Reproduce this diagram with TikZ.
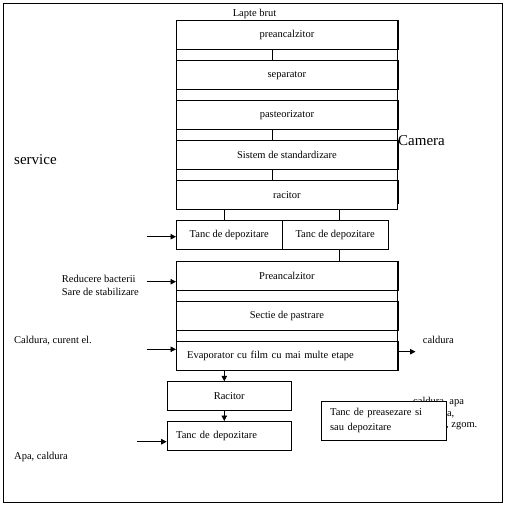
\documentclass[tikz,border=0pt]{standalone}
\usepackage{fontspec}
\setmainfont{Liberation Serif}
\usetikzlibrary{arrows.meta}
\begin{document}
\begin{tikzpicture}[x=1pt,y=-1pt,
  every node/.style={font=\fontsize{10.5}{12.4}\selectfont},
  box/.style={draw, line width=0.8pt, anchor=north west, inner sep=0pt},
  colbox/.style={box, minimum width=221pt, minimum height=29pt},
  tbox/.style={box, minimum width=106pt, minimum height=29pt},
  lbl/.style={anchor=west, inner sep=0pt, align=left},
  big/.style={lbl, font=\fontsize{15}{18}\selectfont},
  line/.style={line width=0.8pt},
  arr/.style={line width=0.8pt, -{Triangle[length=5.5pt,width=5.5pt]}},
  rim/.style={line width=1.6pt}]
\useasboundingbox (0,0) rectangle (506,505);
\draw[line] (3.2,3.3) rectangle (502.6,502.6);

% main column
\node[colbox] (p1) at (176,20.5) {preancalzitor};
\node[colbox] (p2) at (176,60.5) {separator};
\node[colbox] (p3) at (176,100.5) {pasteorizator};
\node[colbox] (p4) at (176,140.5) {Sistem de standardizare};
\node[colbox] (p5) at (176,180.5) {racitor};
\node[lbl, anchor=center] (lapte) at (254.5,13.5) {Lapte brut};

\coordinate (cx) at (272.7,0);
\coordinate (cl) at (224.3,0);
\coordinate (cr) at (339.3,0);

\foreach \a/\b in {p1/p2,p2/p3,p3/p4,p4/p5}{
  \draw[line] (\a.south west) -- (\b.north west);
  \draw[line] (\a.south east) -- (\b.north east);
}
\draw[line] (p1.south -| cx) -- (p2.north -| cx);
\draw[line] (p3.south -| cx) -- (p4.north -| cx);
\draw[line] (p4.south -| cx) -- (p5.north -| cx);

% storage tanks
\node[box, minimum width=105.7pt, minimum height=29pt] (t1) at (176,220) {Tanc de depozitare};
\node[box, minimum width=106pt, minimum height=29pt] (t2) at (281.7,220) {Tanc de depozitare};
\draw[line] (p5.south -| cl) -- (t1.north -| cl);
\draw[line] (p5.south -| cr) -- (t2.north -| cr);
\coordinate (a1) at (146.7,236.7);
\draw[arr] (a1) -- (a1 -| t1.west);

% second column
\node[colbox] (q1) at (176,260.7) {Preancalzitor};
\node[colbox] (q2) at (176,300.7) {Sectie de pastrare};
\node[colbox, text width=199.6pt, inner xsep=10.7pt, align=left] (q3) at (176,340.9) {Evaporator cu film cu mai multe etape};
\foreach \a/\b in {q1/q2,q2/q3}{
  \draw[line] (\a.south west) -- (\b.north west);
  \draw[line] (\a.south east) -- (\b.north east);
}
\draw[line] (t2.south -| cr) -- (q1.north -| cr);

\foreach \n in {p1,p2,p3,p4,q1,q2,q3}{
  \draw[rim] ([xshift=0.4pt]\n.north east) -- ([xshift=0.4pt]\n.south east);
}
\draw[rim] ([xshift=0.4pt]p5.north east) -- ([xshift=0.4pt,yshift=6pt]p5.south east);

\node[lbl] (red) at (61.7,285.5) {Reducere bacterii\\Sare de stabilizare};
\coordinate (a2) at (146.7,281.7);
\draw[arr] (a2) -- (a2 -| q1.west);

\node[lbl] (cce) at (14,340.7) {Caldura, curent el.};
\coordinate (a3) at (146.7,349.3);
\draw[arr] (a3) -- (a3 -| q3.west);
\coordinate (a4) at (415.5,351.7);
\draw[arr] (a4 -| q3.east) -- (a4);
\node[lbl] (cal) at (422.7,340) {caldura};

% lower
\node[tbox, minimum width=124.3pt] (r1) at (166.7,381.3) {Racitor};
\node[tbox, minimum width=124.3pt, text width=106.3pt, inner xsep=9pt, align=left] (r2) at (166.7,421) {Tanc de depozitare};
\draw[arr] (q3.south -| cl) -- (r1.north -| cl);
\draw[arr] (r1.south -| cl) -- (r2.north -| cl);
\coordinate (a5) at (136.7,441.7);
\draw[arr] (a5) -- (a5 -| r2.west);
\node[lbl] (apa) at (14,457.3) {Apa, caldura};

\node[lbl, font=\fontsize{10.5}{11.8}\selectfont] (hid) at (413,413.5) {caldura, apa\\reziduala,\\aer uzat, zgom.};
\node[box, fill=white, minimum width=125pt, minimum height=39pt, text width=107pt, inner xsep=9pt, align=left, font=\fontsize{10.5}{15}\selectfont] (pre) at (320.7,401) {Tanc de preasezare si\\sau depozitare};

\node[big] (serv) at (14,160) {service};
\node[big] (cam) at (398,140.7) {Camera};
\end{tikzpicture}
\end{document}
